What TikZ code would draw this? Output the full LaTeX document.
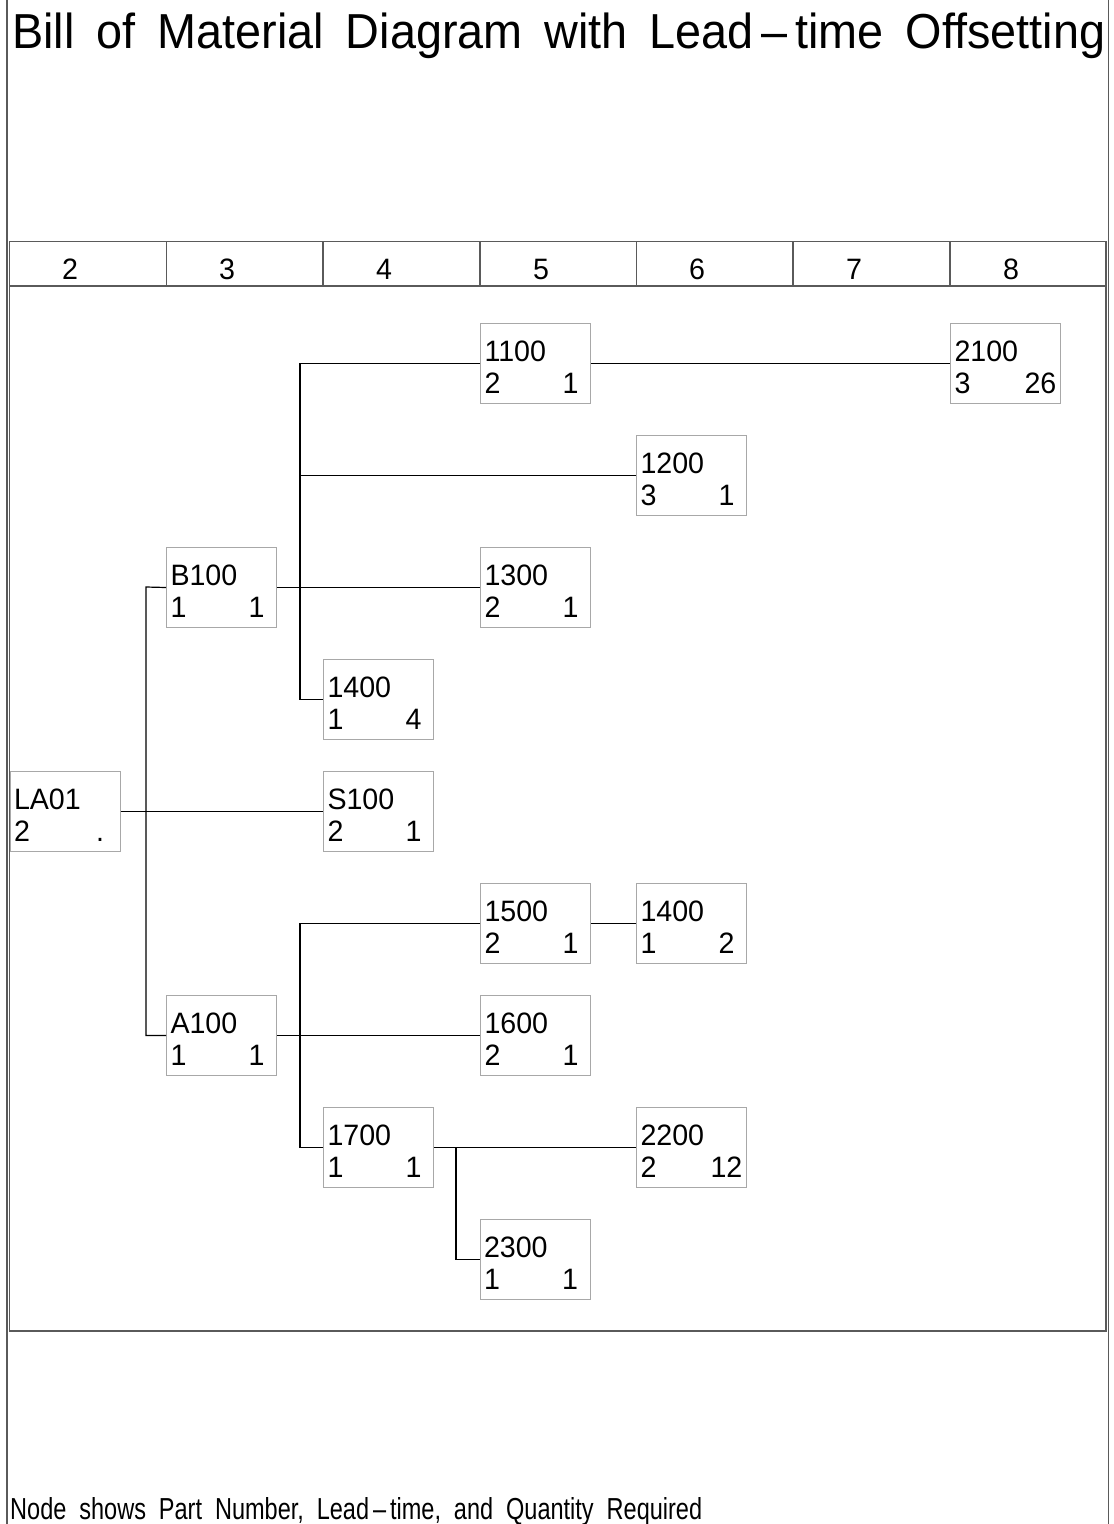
\documentclass[tikz,border=0pt]{standalone}
\usepackage{fontspec}
\usepackage{graphicx}
\setmainfont{Liberation Sans}
\newfontfamily\condfont[FakeStretch=0.97]{Liberation Sans}
\definecolor{framegray}{HTML}{5A5A5A}
\definecolor{boxgray}{HTML}{A8A8A8}
\setlength{\unitlength}{1pt}
\newcommand{\bomt}[3]{\begin{picture}(110,80)\put(4,42){#1}\put(4,10){#2}\put(90,10){\makebox[0pt][c]{#3}}\end{picture}}
\tikzset{
  bom/.style={draw=boxgray, line width=1pt, rectangle, anchor=north west, inner sep=0pt, minimum width=110pt, minimum height=80pt, font=\condfont\fontsize{29.5}{32}\selectfont},
  hdr/.style={inner sep=0pt, font=\condfont\fontsize{29.5}{32}\selectfont},
  link/.style={draw=black, line width=1.2pt},
  frameline/.style={draw=framegray, line width=1.3pt}
}
\begin{document}
\begin{tikzpicture}[x=1pt,y=-1pt]
\useasboundingbox (0,0) rectangle (1114,1524);
% page frame
\draw[frameline] (7,0) -- (7,1524);
\draw[frameline] (1108.5,0) -- (1108.5,1524);
% title and footnote
\node[anchor=base west, inner sep=0pt] (title) at (12,48) {\resizebox{1093pt}{35.6pt}{\fontsize{50}{50}\selectfont\spaceskip=0.47em Bill of Material Diagram with Lead\,–\,time Offsetting}};
\node[anchor=base west, inner sep=0pt] (foot) at (10,1519) {\resizebox{692pt}{22pt}{\fontsize{30}{30}\selectfont\spaceskip=0.55em Node shows Part Number, Lead\,–\,time, and Quantity Required}};
% chart frame and header
\draw[frameline] (9.5,241.5) rectangle (1106,1331);
\draw[frameline] (9.5,286) -- (1106,286);
\foreach \x in {166.5,323,480,636.5,793,950}{\draw[frameline] (\x,241.5) -- (\x,286);}
\node[hdr] (h2) at (70,269) {2};
\node[hdr] (h3) at (227,269) {3};
\node[hdr] (h4) at (384,269) {4};
\node[hdr] (h5) at (541,269) {5};
\node[hdr] (h6) at (697,269) {6};
\node[hdr] (h7) at (854,269) {7};
\node[hdr] (h8) at (1011,269) {8};
% nodes
\node[bom] (LA01) at (9.5,771) {\bomt{LA01}{2}{.}};
\node[bom] (B100) at (166,547) {\bomt{B100}{1}{1}};
\node[bom] (A100) at (166,995) {\bomt{A100}{1}{1}};
\node[bom] (n1400a) at (323,659) {\bomt{1400}{1}{4}};
\node[bom] (S100) at (323,771) {\bomt{S100}{2}{1}};
\node[bom] (n1700) at (323,1107) {\bomt{1700}{1}{1}};
\node[bom] (n1100) at (480,323) {\bomt{1100}{2}{1}};
\node[bom] (n1300) at (480,547) {\bomt{1300}{2}{1}};
\node[bom] (n1500) at (480,883) {\bomt{1500}{2}{1}};
\node[bom] (n1600) at (480,995) {\bomt{1600}{2}{1}};
\node[bom] (n2300) at (479.5,1219) {\bomt{2300}{1}{1}};
\node[bom] (n1200) at (636,435) {\bomt{1200}{3}{1}};
\node[bom] (n1400b) at (636,883) {\bomt{1400}{1}{2}};
\node[bom] (n2200) at (636,1107) {\bomt{2200}{2}{12}};
\node[bom] (n2100) at (950,323) {\bomt{2100}{3}{26}};
% bus points
\coordinate (bL) at (146,587);
\coordinate (bB) at (300,587);
\coordinate (bA) at (300,1035);
\coordinate (b7) at (456,1147);
% connectors
\draw[link] (LA01.east) -- (S100.west);
\draw[link] (B100.west) -- (bL) |- (A100.west);
\draw[link] (B100.east) -- (n1300.west);
\draw[link] (n1100.west) -| (bB) |- (n1400a.west);
\draw[link] (bB) |- (n1200.west);
\draw[link] (n1100.east) -- (n2100.west);
\draw[link] (A100.east) -- (n1600.west);
\draw[link] (n1500.west) -| (bA) |- (n1700.west);
\draw[link] (n1500.east) -- (n1400b.west);
\draw[link] (n1700.east) -- (n2200.west);
\draw[link] (b7) |- (n2300.west);
\end{tikzpicture}
\end{document}
